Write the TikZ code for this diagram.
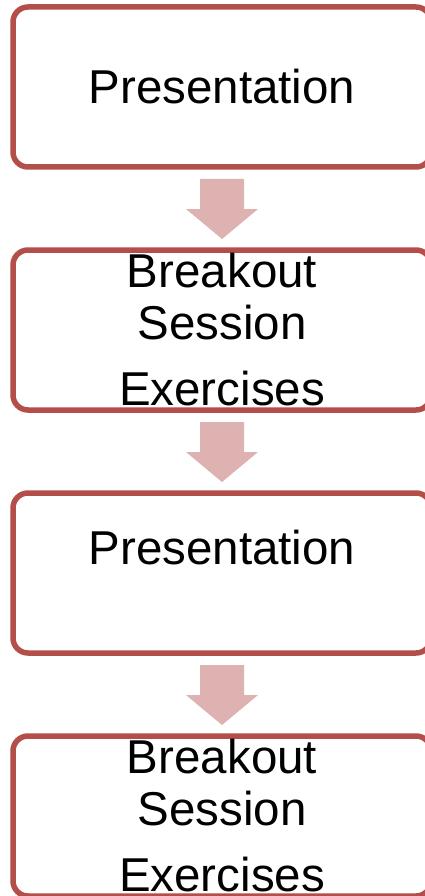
\documentclass[tikz,border=0pt]{standalone}
\usepackage{fontspec}
\setmainfont{Liberation Sans}
\usetikzlibrary{positioning,calc}

\definecolor{boxred}{RGB}{179,78,74}
\definecolor{arrowpink}{RGB}{221,178,177}

\tikzstyle{stepbox} = [rectangle, rounded corners=15pt, minimum width=418pt, minimum height=160pt, line width=5.5pt, draw=boxred, outer sep=0pt, align=center, text centered, font=\fontsize{47.5}{52}\selectfont]
\tikzstyle{flow} = [fill=arrowpink]

\begin{document}
\begin{tikzpicture}[x=1pt, y=-1pt, node distance=83pt]

\useasboundingbox (0,0) rectangle (424,896);

\node (talk1) [stepbox] at (222,87) {Presentation};

\node (breakout1) [stepbox, below=of talk1] {Breakout\\Session\\[14pt]Exercises};

\node (talk2) [stepbox, below=of breakout1] {Presentation\\\mbox{}};

\node (breakout2) [stepbox, below=of talk2] {Breakout\\Session\\[14pt]Exercises};

% block arrows between the steps
\foreach \a/\b in {talk1/breakout1, breakout1/talk2, talk2/breakout2}
  \fill[flow] ($(\a.south)+(-22,12)$) -- ++(44,0) -- ++(0,30) -- ++(14,0)
    -- ($(\b.north)+(0,-11)$) -- ++(-36,-30) -- ++(14,0) -- cycle;

\end{tikzpicture}
\end{document}
